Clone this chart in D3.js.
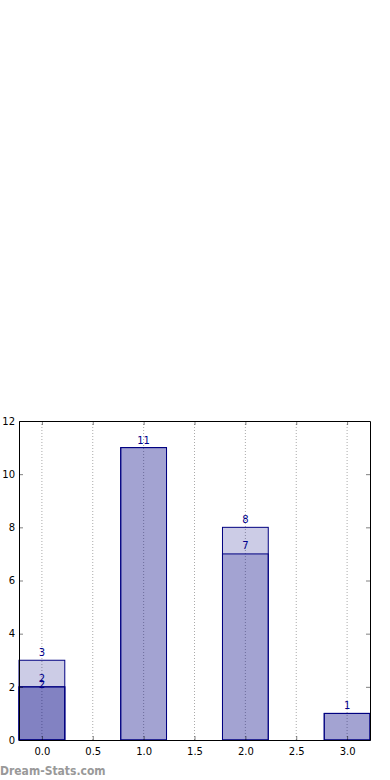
<!DOCTYPE html>
<html lang="en">
<head>
  <meta charset="UTF-8" />
  <title>Overlapping bars</title>
  <script src="https://d3js.org/d3.v7.min.js"></script>
  <style>
    body {
      background-color: white;
      margin: 0;
      font-family: "DejaVu Sans", sans-serif;
    }

    svg {
      display: block;
    }

    .tick text {
      font-size: 10px;
      fill: #000;
    }

    .grid line {
      stroke: #aaaaaa;
      stroke-dasharray: 1,2;
    }

    .value-label {
      font-size: 10px;
      fill: #00008b;
      text-anchor: middle;
    }
  </style>
</head>
<body>
  <svg></svg>

  <script>
    // each series is drawn on top of the others at the same x positions
    const positions = [0, 1, 2, 3];
    const seriesA = [3, 11, 8, 1];
    const seriesB = [2, 11, 7, 1];
    const seriesC = [2, null, null, null];
    const allSeries = [seriesA, seriesB, seriesC];
    const labelOffsets = [4, 5, -1]; // px above bar top, per series

    const xTicks = [0, 0.5, 1, 1.5, 2, 2.5, 3];
    const yTicks = [0, 2, 4, 6, 8, 10, 12];
    const barWidth = 0.45;

    const width = 390;
    const height = 780;
    const margin = {top: 421, right: 20, bottom: 40, left: 19};

    const svg = d3.select("svg")
      .attr("width", width)
      .attr("height", height);

    const x = d3.scaleLinear()
      .domain([-barWidth / 2, 3 + barWidth / 2])
      .range([margin.left, width - margin.right]);

    const y = d3.scaleLinear()
      .domain([0, 12])
      .range([height - margin.bottom, margin.top]);

    // vertical dotted grid
    svg.append("g")
      .attr("class", "grid")
      .selectAll("line")
      .data(xTicks)
      .enter().append("line")
      .attr("x1", d => x(d))
      .attr("x2", d => x(d))
      .attr("y1", y(0))
      .attr("y2", y(12));

    // bars, one group per series
    allSeries.forEach((series, si) => {
      const data = positions
        .map((p, i) => ({pos: p, value: series[i]}))
        .filter(d => d.value != null);

      svg.append("g")
        .selectAll("rect")
        .data(data)
        .enter().append("rect")
        .attr("x", d => x(d.pos - barWidth / 2))
        .attr("y", d => y(d.value))
        .attr("width", d => x(d.pos + barWidth / 2) - x(d.pos - barWidth / 2))
        .attr("height", d => y(0) - y(d.value))
        .attr("fill", "#000080")
        .attr("fill-opacity", 0.2)
        .attr("stroke", "#000080")
        .attr("stroke-width", 1);

      // skip a label only if the series just before has the same value there
      const shown = si === 1
        ? data.filter(d => allSeries[0][positions.indexOf(d.pos)] !== d.value)
        : data;

      svg.append("g")
        .selectAll("text")
        .data(shown)
        .enter().append("text")
        .attr("class", "value-label")
        .attr("x", d => x(d.pos))
        .attr("y", d => y(d.value) - labelOffsets[si])
        .text(d => d.value);
    });

    // axes with inward ticks on all four sides
    const fmt = d3.format(".1f");

    const bottomAxis = svg.append("g")
      .attr("transform", `translate(0,${y(0)})`)
      .call(d3.axisBottom(x).tickValues(xTicks).tickFormat(fmt).tickSizeInner(-4).tickSizeOuter(0).tickPadding(8));

    const topAxis = svg.append("g")
      .attr("transform", `translate(0,${y(12)})`)
      .call(d3.axisTop(x).tickValues(xTicks).tickFormat("").tickSizeInner(-4).tickSizeOuter(0));

    const leftAxis = svg.append("g")
      .attr("transform", `translate(${x.range()[0]},0)`)
      .call(d3.axisLeft(y).tickValues(yTicks).tickFormat(d3.format("d")).tickSizeInner(-4).tickSizeOuter(0).tickPadding(4));

    const rightAxis = svg.append("g")
      .attr("transform", `translate(${x.range()[1]},0)`)
      .call(d3.axisRight(y).tickValues(yTicks).tickFormat("").tickSizeInner(-4).tickSizeOuter(0));

    [bottomAxis, topAxis, leftAxis, rightAxis].forEach(a => {
      a.select(".domain").attr("stroke", "#000").attr("stroke-width", 1);
      a.selectAll(".tick line").attr("stroke", "#000").attr("stroke-width", 0.5);
      a.attr("font-family", "DejaVu Sans, sans-serif");
    });

    // watermark
    svg.append("text")
      .attr("x", 0)
      .attr("y", 775)
      .attr("font-family", "DejaVu Sans Condensed, DejaVu Sans, sans-serif")
      .attr("font-size", 12)
      .attr("font-weight", "bold")
      .attr("fill", "#999999")
      .text("Dream-Stats.com");
  </script>
</body>
</html>
